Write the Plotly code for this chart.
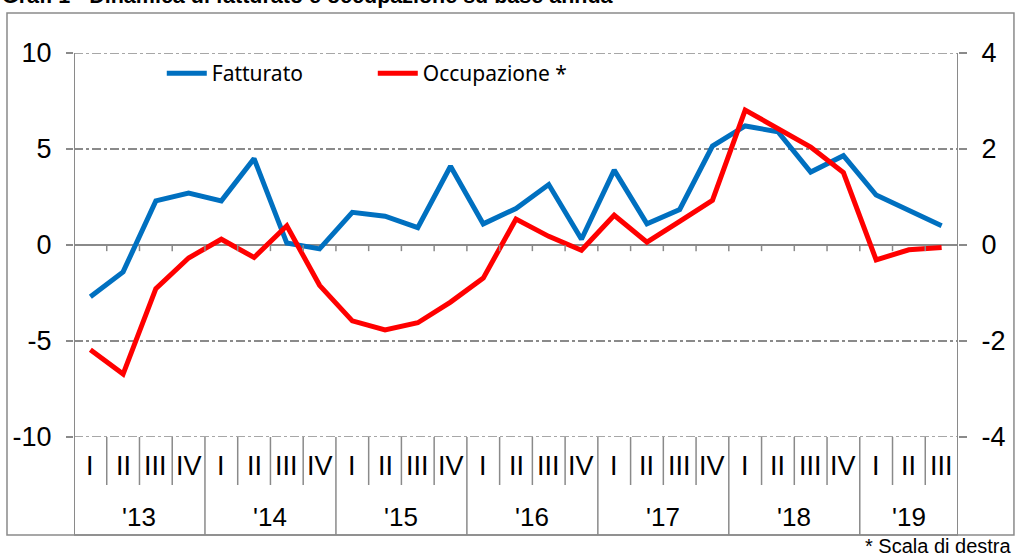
import plotly.graph_objects as go

# ---- data ----
years = ["'13", "'14", "'15", "'16", "'17", "'18", "'19"]
quarters_per_year = [4, 4, 4, 4, 4, 4, 3]
quarter_names = ["I", "II", "III", "IV"]

fatturato = [-2.7, -1.4, 2.3, 2.7, 2.3, 4.5, 0.1, -0.2, 1.7, 1.5, 0.9, 4.1, 1.1,
             1.9, 3.15, 0.3, 3.9, 1.1, 1.85, 5.15, 6.2, 5.9, 3.8, 4.65, 2.6, 1.8, 1.0]
occupazione = [-2.18, -2.69, -0.91, -0.27, 0.12, -0.26, 0.40, -0.84, -1.58, -1.77,
               -1.62, -1.19, -0.69, 0.54, 0.18, -0.11, 0.62, 0.06, 0.49, 0.93, 2.81,
               2.41, 2.04, 1.51, -0.31, -0.10, -0.05]

left_ticks = [-10, -5, 0, 5, 10]
left_labels = ["-10", "-5", "0", "5", "10"]
right_ticks = [-4, -2, 0, 2, 4]
right_labels = ["-4", "-2", "0", "2", "4"]

title_text = "Graf. 1 - Dinamica di fatturato e occupazione su base annua"
note_text = "* Scala di destra"

# ---- derived ----
quarter_labels = []
year_spans = []
idx = 0
for y, n in zip(years, quarters_per_year):
    year_spans.append((y, idx, idx + n - 1))
    for q in range(n):
        quarter_labels.append(quarter_names[q])
    idx += n
x = list(range(len(fatturato)))

GRAY = "#8a8a8a"
FONT = "Arial, Liberation Sans, sans-serif"
LEG_FONT = "Noto Sans, sans-serif"

fig = go.Figure()
fig.add_trace(go.Scatter(x=x, y=fatturato, name="Fatturato", mode="lines",
                         line=dict(color="#0070C0", width=5), yaxis="y"))
fig.add_trace(go.Scatter(x=x, y=occupazione, name="Occupazione *", mode="lines",
                         line=dict(color="#FF0000", width=5), yaxis="y2"))

shapes = []
BOTTOM = -0.255
# dash-dot gridlines at the range edges too
for tv in (left_ticks[0], left_ticks[-1]):
    shapes.append(dict(type="line", xref="paper", yref="y", x0=0, x1=1, y0=tv, y1=tv,
                       line=dict(color=GRAY, width=1.5, dash="dashdot"), layer="below"))
# axis lines extended to the bottom of the category area
for xv in (-0.5, len(x) - 0.5):
    shapes.append(dict(type="line", xref="x", yref="paper", x0=xv, x1=xv,
                       y0=BOTTOM, y1=1, line=dict(color=GRAY, width=2)))
# category separators
year_bounds = set()
for _, a, b in year_spans:
    year_bounds.add(a - 0.5)
    year_bounds.add(b + 0.5)
for i in range(1, len(x)):
    xv = i - 0.5
    if xv in year_bounds:
        shapes.append(dict(type="line", xref="x", yref="paper", x0=xv, x1=xv,
                           y0=BOTTOM, y1=0, line=dict(color=GRAY, width=1.5)))
    else:
        shapes.append(dict(type="line", xref="x", yref="paper", x0=xv, x1=xv,
                           y0=-0.125, y1=0, line=dict(color=GRAY, width=1.5)))
    # small ticks under the zero line
    shapes.append(dict(type="line", xref="x", yref="y", x0=xv, x1=xv,
                       y0=0, y1=-0.32, line=dict(color=GRAY, width=1.5)))
# bottom line of category area
shapes.append(dict(type="line", xref="x", yref="paper", x0=-0.5, x1=len(x) - 0.5,
                   y0=BOTTOM, y1=BOTTOM, line=dict(color=GRAY, width=1.5)))
# outer frame
shapes.append(dict(type="rect", xref="paper", yref="paper", x0=-0.0758, x1=1.0633,
                   y0=BOTTOM, y1=1.104, line=dict(color=GRAY, width=1.5)))

annotations = []
for i, q in enumerate(quarter_labels):
    annotations.append(dict(x=i, y=-0.0768, xref="x", yref="paper", text=q,
                            xanchor="center", yanchor="middle",
                            showarrow=False, font=dict(family=FONT, size=27, color="black")))
for yname, a, b in year_spans:
    annotations.append(dict(x=(a + b) / 2, y=-0.2096, xref="x", yref="paper", text=yname,
                            xanchor="center", yanchor="middle",
                            showarrow=False, font=dict(family=FONT, size=26, color="black")))
annotations.append(dict(x=1.0633, y=-0.2839, xref="paper", yref="paper", text=note_text,
                        xanchor="right", yanchor="middle", showarrow=False,
                        font=dict(family=FONT, size=20, color="black")))
annotations.append(dict(x=-0.0837, y=1.112, xref="paper", yref="paper",
                        text="<b>" + title_text + "</b>",
                        xanchor="left", yanchor="bottom", showarrow=False,
                        font=dict(family=FONT, size=21.5, color="black")))

fig.update_layout(
    width=1017, height=556,
    margin=dict(l=74, r=59, t=53, b=119),
    paper_bgcolor="white", plot_bgcolor="white",
    showlegend=True,
    legend=dict(orientation="h", x=0.0993, y=1.0, xanchor="left", yanchor="top",
                font=dict(family=LEG_FONT, size=21, color="black"),
                entrywidth=156, entrywidthmode="pixels", bgcolor="rgba(0,0,0,0)",
                itemwidth=40),
    xaxis=dict(range=[-0.5, len(x) - 0.5], showticklabels=False, showgrid=False,
               zeroline=False, showline=False, ticks=""),
    yaxis=dict(range=[-10, 10], tickvals=left_ticks, ticktext=left_labels,
               showgrid=True, gridcolor=GRAY,
               gridwidth=1.5, griddash="dashdot", zeroline=True, zerolinecolor=GRAY,
               zerolinewidth=2, showline=False, ticks="outside", ticklen=7,
               tickcolor=GRAY, tickwidth=1.5, ticklabelstandoff=9,
               tickfont=dict(family=FONT, size=27, color="black")),
    yaxis2=dict(range=[-4, 4], tickvals=right_ticks, ticktext=right_labels,
                overlaying="y", side="right",
                showgrid=False, zeroline=False, showline=False, ticks="outside",
                ticklen=8, tickcolor=GRAY, tickwidth=1.5, ticklabelstandoff=9,
                tickfont=dict(family=FONT, size=27, color="black")),
    shapes=shapes,
    annotations=annotations,
)

fig.write_html("out.html", config={"displayModeBar": False},
               post_script="document.body.style.margin='0';document.body.style.overflow='hidden';")
